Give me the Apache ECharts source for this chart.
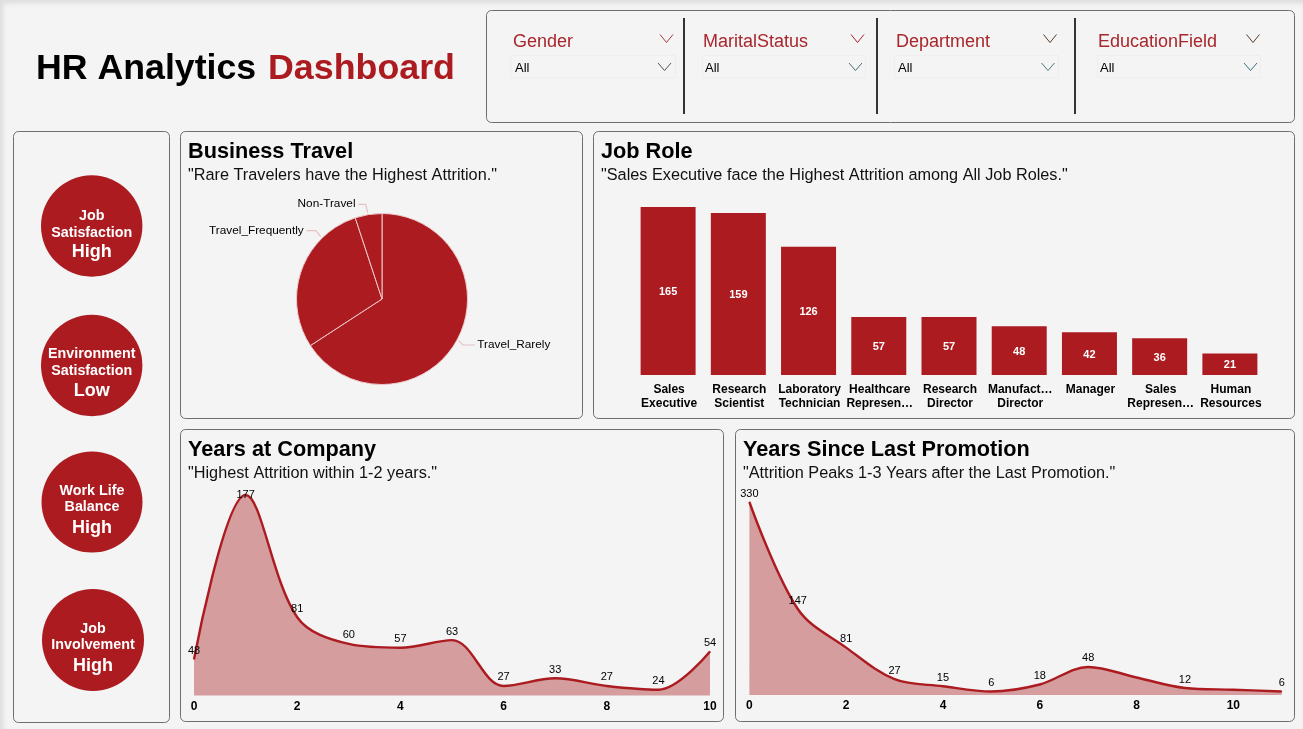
<!DOCTYPE html>
<html><head><meta charset="utf-8">
<style>html,body{margin:0;padding:0;width:1303px;height:729px;overflow:hidden;background:#f4f4f4}
body{box-shadow:inset 3px 3px 5px #dcdcdc}
#c{width:1303px;height:729px}</style>
<script src="https://cdn.jsdelivr.net/npm/echarts@6/dist/echarts.min.js"></script>
</head><body><div id="c"></div>
<script>
const travelNames = ['Travel_Rarely','Travel_Frequently','Non-Travel'];
const travelValues = [156,69,12];
const roleLabels = ['Sales\nExecutive','Research\nScientist','Laboratory\nTechnician','Healthcare\nRepresen…','Research\nDirector','Manufact…\nDirector','Manager','Sales\nRepresen…','Human\nResources'];
const roleValues = [165,159,126,57,57,48,42,36,21];
const companyYears = [0,1,2,3,4,5,6,7,8,9,10];
const companyValues = [48,177,81,60,57,63,27,33,27,24,54];
const promoYears = [0,1,2,3,4,5,6,7,8,9,10,11];
const promoValues = [330,147,81,27,15,6,18,48,30,12,9,6];
const promoUnlabelled = [8,10];
const filterNames = ['Gender','MaritalStatus','Department','EducationField'];
const kpis = [['Job','Satisfaction','High'],['Environment','Satisfaction','Low'],['Work Life','Balance','High'],['Job','Involvement','High']];

const RED='#ab1b20', FONT='"Liberation Sans",Arial,sans-serif';
const g=[];
function panel(x,y,w,h){g.push({type:'rect',shape:{x:x+.5,y:y+.5,width:w-1,height:h-1,r:5},style:{fill:'#f4f4f4',stroke:'#6e6e6e',lineWidth:1},z:0});}
function text(t,x,y,size,fill,weight,align){g.push({type:'text',x,y:y+1,z:5,style:{text:t,fill,font:(weight||'normal')+' '+size+'px '+FONT,textAlign:align||'left',textVerticalAlign:'middle'}});}
function chev(x0,x1,y0,y1,c){g.push({type:'polyline',z:5,shape:{points:[[x0,y0],[(x0+x1)/2,y1],[x1,y0]]},style:{stroke:c,lineWidth:1,fill:null}});}

panel(486,10,809,113);panel(13,131,157,592);panel(180,131,403,288);panel(593,131,702,288);panel(180,429,544,293);panel(735,429,560,293);

text('HR Analytics',36,68.5,35.7,'#000','bold');
text('Dashboard',268,68.5,35.8,RED,'bold');

const fl=[[513,660,510.5,164.5,515,658],[703,851,702,163,705,849],[896,1043.5,894,164,898,1041.5],[1098,1246.5,1097,163,1100,1244]];
const topChev=['#a8383d','#a01f30','#5a3a2a','#5a3a2a'], lowChev=['#555','#4a6a70','#4a7a80','#3a7080'];
filterNames.forEach((n,i)=>{const f=fl[i];
  text(n,f[0],41.5,18,'#a8262c');
  chev(f[1],f[1]+13,34.5,42.5,topChev[i]);
  g.push({type:'rect',z:1,shape:{x:f[2]+.5,y:55.5,width:f[3],height:22},style:{fill:'#f4f4f4',stroke:'#eeeeee',lineWidth:1}});
  text('All',f[4],67,13,'#000');
  chev(f[5],f[5]+13,63,70.5,lowChev[i]);
});
[684,877,1075].forEach(x=>g.push({type:'line',z:5,shape:{x1:x,y1:18,x2:x,y2:114},style:{stroke:'#333',lineWidth:2}}));

const circ=[[91.7,226,50.7,[215,232,251]],[91.7,365.5,50.7,[353,370,390]],[92,502,50.5,[490,506,527]],[93,640,51,[628,644,665]]];
kpis.forEach((k,i)=>{const c=circ[i];
  g.push({type:'circle',z:2,shape:{cx:c[0],cy:c[1],r:c[2]},style:{fill:RED}});
  text(k[0],c[0],c[3][0],14.3,'#fff','bold','center');
  text(k[1],c[0],c[3][1],14.3,'#fff','bold','center');
  text(k[2],c[0],c[3][2],18,'#fff','bold','center');
});

[['Business Travel','"Rare Travelers have the Highest Attrition."',188,151,175],
 ['Job Role','"Sales Executive face the Highest Attrition among All Job Roles."',601,151,175],
 ['Years at Company','"Highest Attrition within 1-2 years."',188,449,473],
 ['Years Since Last Promotion','"Attrition Peaks 1-3 Years after the Last Promotion."',743,449,473]
].forEach(t=>{text(t[0],t[2],t[3],21.7,'#000','bold');text(t[1],t[2],t[4],16.25,'#111');});

function areaSeries(xi,data,fmt){return {type:'line',xAxisIndex:xi,yAxisIndex:xi,data,smooth:.35,showSymbol:true,showAllSymbol:true,symbol:'circle',symbolSize:1,
  lineStyle:{color:RED,width:2.4},areaStyle:{color:RED,opacity:.4},itemStyle:{color:RED},
  label:{show:true,position:'top',fontSize:11,color:'#000',fontFamily:FONT,distance:2.5,formatter:fmt},labelLayout:{hideOverlap:false},silent:true,clip:false};}
const xa=(d,i)=>({type:'category',gridIndex:i,data:d,boundaryGap:false,axisLine:{show:false},axisTick:{show:false},
  axisLabel:{interval:0,formatter:v=>(+v)%2?'':v,fontSize:12,fontWeight:'bold',color:'#000',fontFamily:FONT,margin:5,hideOverlap:false},splitLine:{show:false}});

const companyData=companyValues.map(v=>v===Math.max(...companyValues)?{value:v,label:{distance:-5.5}}:v);
const pieLayouts=[
 {x:477.3,y:344.5,align:'left',verticalAlign:'middle',labelLinePoints:[[458.7,340.7],[463,345],[475,345]]},
 {x:303.7,y:231,align:'right',verticalAlign:'middle',labelLinePoints:[[320.7,236.7],[316,230.7],[306.7,230.7]]},
 {x:355.5,y:203.5,align:'right',verticalAlign:'middle',labelLinePoints:[[367.7,212.7],[365.7,204.3],[358.3,204.3]]}];

const option={animation:false,textStyle:{fontFamily:FONT},graphic:{elements:g},
 grid:[
  {left:633,top:207,width:632,height:168,outerBoundsMode:'none'},
  {left:194,top:495,width:516,height:200.5,outerBoundsMode:'none'},
  {left:749.4,top:502,width:532.3,height:193,outerBoundsMode:'none'}],
 xAxis:[
  {type:'category',gridIndex:0,data:roleLabels,axisLine:{show:false},axisTick:{show:false},
   axisLabel:{interval:0,fontSize:12,fontWeight:'bold',color:'#000',lineHeight:14,margin:8,fontFamily:FONT,padding:[0,0,0,2]}},
  xa(companyYears,1),xa(promoYears,2)],
 yAxis:[
  {type:'value',gridIndex:0,min:0,max:165,show:false},
  {type:'value',gridIndex:1,min:19.5,max:177,show:false},
  {type:'value',gridIndex:2,min:0,max:330,show:false}],
 series:[
  {type:'pie',center:[382,299],radius:[0,85.5],startAngle:90,clockwise:true,silent:true,
   data:travelNames.map((n,i)=>({name:n,value:travelValues[i]})),
   itemStyle:{color:RED,borderColor:'#eec9ca',borderWidth:1},
   label:{show:true,formatter:'{b}',fontSize:11.8,color:'#000',fontFamily:FONT},
   labelLine:{show:true,length:8,length2:10,lineStyle:{color:'#e2c2c3',width:1.2}},
   labelLayout:p=>pieLayouts[p.dataIndex]},
  {type:'bar',xAxisIndex:0,yAxisIndex:0,data:roleValues,barWidth:55,silent:true,itemStyle:{color:RED},
   label:{show:true,position:'inside',color:'#fff',fontSize:11,fontWeight:'bold',fontFamily:FONT,offset:[0,1]}},
  areaSeries(1,companyData,p=>p.value),
  areaSeries(2,promoValues,p=>promoUnlabelled.includes(p.dataIndex)?'':p.value)
 ]};
echarts.init(document.getElementById('c'),null,{renderer:'canvas'}).setOption(option);
</script></body></html>
